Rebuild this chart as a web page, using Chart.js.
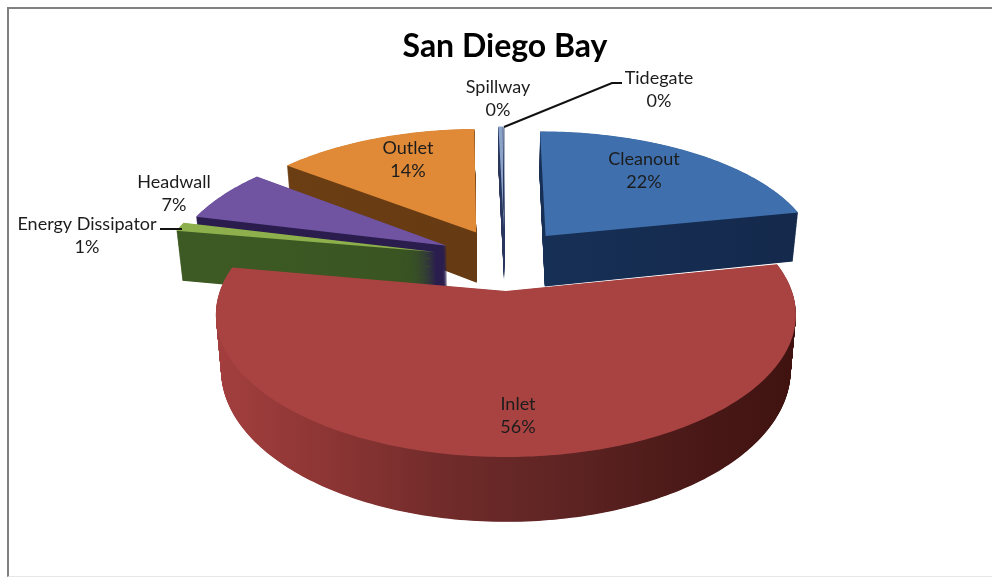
<!DOCTYPE html>
<html>
<head>
<meta charset="utf-8">
<title>San Diego Bay</title>
<style>
html, body { margin: 0; padding: 0; background: #fff; overflow: hidden; }
#frame { position: absolute; left: 7px; top: 7px; right: 0; bottom: 3px; border-left: 2px solid #808080; border-top: 2px solid #808080; border-bottom: 1px solid #e6e6e6; }
#pieChart { position: absolute; left: 0; top: 0; }
</style>
<script src="https://cdn.jsdelivr.net/npm/chart.js@4"></script>
</head>
<body>
<div id="frame"></div>
<canvas id="pieChart" width="992" height="580"></canvas>
<script>
// DATA
const categories = ['Cleanout', 'Inlet', 'Energy Dissipator', 'Headwall', 'Outlet', 'Spillway', 'Tidegate'];
const seriesValues = [21.8, 56, 1.1, 6.6, 14.1, 0.3, 0.1];

// STYLE
const topColors = ['#3f70ad', '#a94342', '#8db04c', '#7054a2', '#e08a38', '#8aa3cb', '#c3cfe2'];
const sideColors = [
    ['#1b3862', '#14294c'],
    ['#a33f3e', '#8b3534', '#702b2a', '#5e2423', '#4c1a18', '#3f1210'],
    ['#3d5a24', '#31491d'],
    ['#2a1c4d', '#2a2050'],
    ['#6e3f14', '#5c3410'],
    ['#28355c', '#28355c'],
    ['#28355c', '#28355c']
];
const drawOrder = [5, 6, 4, 0, 3, 2, 1];
const explode = [0.24, 0.24, 0.26, 0.24, 0.24, 0.24, 0.24];
const labelPos = {
    'Cleanout': [644, 159],
    'Inlet': [518, 404],
    'Energy Dissipator': [87, 224],
    'Headwall': [174, 182],
    'Outlet': [408, 148],
    'Spillway': [498, 87],
    'Tidegate': [659, 78]
};
const leaders = [
    [[504, 127], [612, 83], [622, 83]],
    [[160, 229], [182, 229]]
];

// 3D view of the flat pie
const view = { cx: 505, cy: 259, sx: 275, sy: 128, k: 0.16, depth: 52 };

function project(u, v, t) {
    const w = 1 / (1 - view.k * v);
    const x = view.cx + view.sx * u * w;
    const y = view.cy + view.sy * v * w + view.depth * t * w;
    return [view.cx + (x - view.cx) * (1 - 0.018 * t), y];
}

// wraps the canvas context so the arc element's own path goes through project()
function viewContext(ctx, arc, pull, t, fill) {
    const mid = (arc.startAngle + arc.endAngle) / 2;
    const R = arc.outerRadius;
    const dx = pull * Math.cos(mid);
    const dy = pull * Math.sin(mid);
    const toView = (x, y) => project((x - arc.x) / R + dx, (y - arc.y) / R + dy, t);
    const own = {
        moveTo(x, y) { const p = toView(x, y); ctx.moveTo(p[0], p[1]); },
        lineTo(x, y) { const p = toView(x, y); ctx.lineTo(p[0], p[1]); },
        arc(x, y, r, a, b, back) {
            if (!(r > 0) || !isFinite(a) || !isFinite(b)) {
                own.lineTo(x, y);
                return;
            }
            let sweep = b - a;
            if (back && sweep > 0) sweep -= Math.PI * 2;
            if (!back && sweep < 0) sweep += Math.PI * 2;
            const steps = Math.max(2, Math.ceil(Math.abs(sweep) * 60));
            for (let i = 0; i <= steps; i++) {
                const ang = a + sweep * i / steps;
                own.lineTo(x + r * Math.cos(ang), y + r * Math.sin(ang));
            }
        }
    };
    return new Proxy(ctx, {
        get(target, prop) {
            if (own[prop]) return own[prop];
            const val = target[prop];
            return typeof val === 'function' ? val.bind(target) : val;
        },
        set(target, prop, val) {
            target[prop] = (prop === 'fillStyle' && fill) ? fill : val;
            return true;
        }
    });
}

const pie3d = {
    id: 'pie3d',
    beforeDatasetsDraw(chart) {
        const ctx = chart.ctx;
        const arcs = chart.getDatasetMeta(0).data;
        drawOrder.forEach(i => {
            const stops = sideColors[i];
            const grad = ctx.createLinearGradient(217, 0, 795, 0);
            stops.forEach((c, n) => grad.addColorStop(n / (stops.length - 1), c));
            for (let px = view.depth; px > 0; px -= 0.5) {
                arcs[i].draw(viewContext(ctx, arcs[i], explode[i], px / view.depth, grad));
            }
            arcs[i].draw(viewContext(ctx, arcs[i], explode[i], 0, null));
        });
        return false;
    },
    afterDraw(chart) {
        const ctx = chart.ctx;
        const total = seriesValues.reduce((a, b) => a + b, 0);
        ctx.save();
        ctx.strokeStyle = '#111';
        ctx.lineWidth = 2;
        leaders.forEach(line => {
            ctx.beginPath();
            line.forEach((p, n) => n ? ctx.lineTo(p[0], p[1]) : ctx.moveTo(p[0], p[1]));
            ctx.stroke();
        });
        ctx.fillStyle = '#1c1c1c';
        ctx.font = '18px Lato';
        ctx.textAlign = 'center';
        ctx.textBaseline = 'middle';
        categories.forEach((name, i) => {
            const p = labelPos[name];
            ctx.fillText(name, p[0], p[1]);
            ctx.fillText(Math.round(seriesValues[i] / total * 100) + '%', p[0], p[1] + 23);
        });
        ctx.restore();
    }
};

new Chart(document.getElementById('pieChart'), {
    type: 'pie',
    data: {
        labels: categories,
        datasets: [
            {
                data: seriesValues,
                backgroundColor: topColors,
                borderWidth: 0
            }
        ]
    },
    options: {
        responsive: false,
        animation: false,
        events: [],
        layout: { padding: { left: 18 } },
        plugins: {
            legend: { display: false },
            tooltip: { enabled: false },
            title: {
                display: true,
                text: 'San Diego Bay',
                color: '#000',
                font: { family: 'Lato', size: 32, weight: 'bold' },
                padding: { top: 27, bottom: 10 }
            }
        }
    },
    plugins: [pie3d]
});
</script>
</body>
</html>
